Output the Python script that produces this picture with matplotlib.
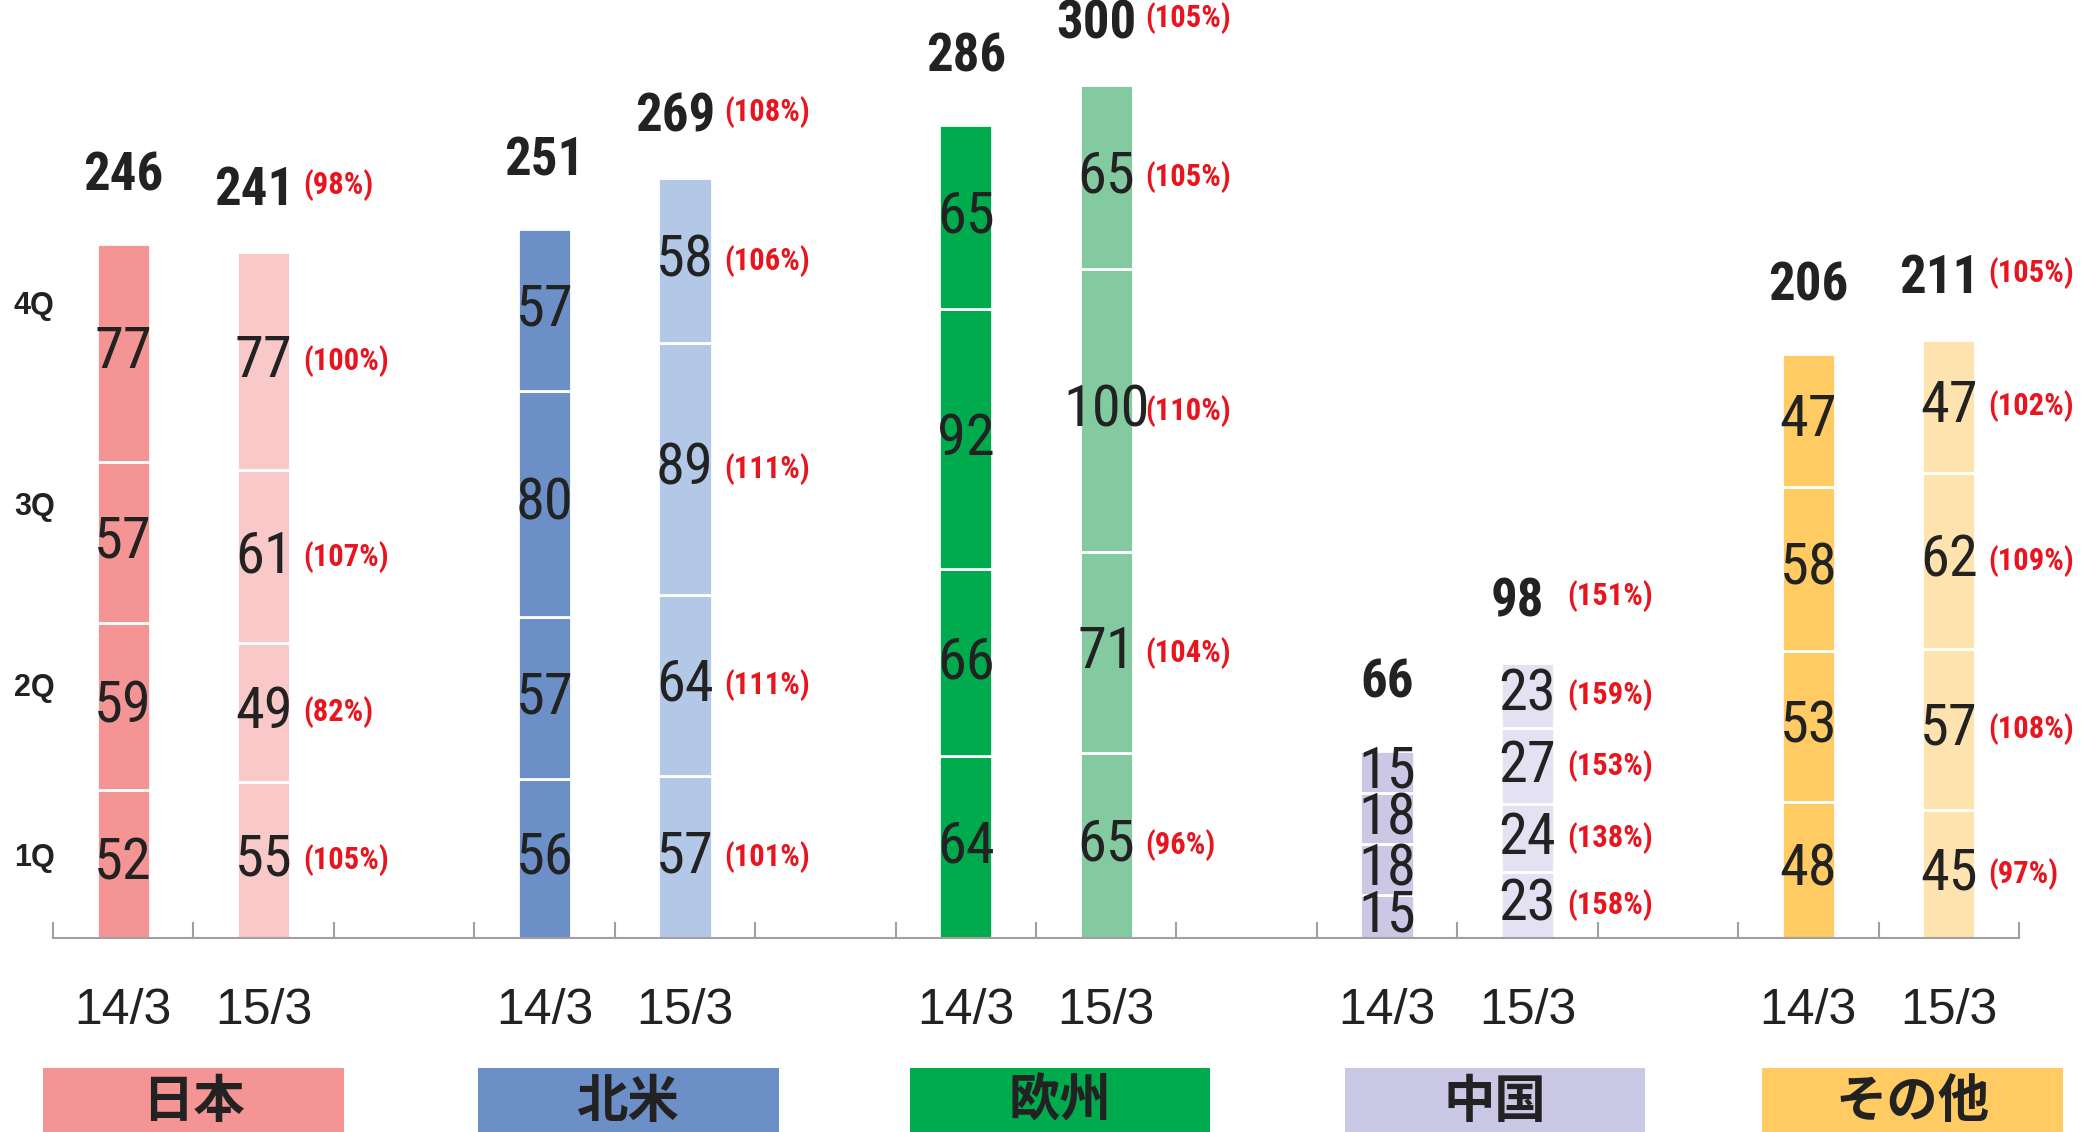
import matplotlib
matplotlib.use('Agg')
import matplotlib.pyplot as plt
from matplotlib.patches import Rectangle
from matplotlib.transforms import blended_transform_factory
from matplotlib import font_manager

installed = {f.name for f in font_manager.fontManager.ttflist}


def pick(*names):
    for n in names:
        if n in installed:
            return n
    return 'Liberation Sans'


NUM = pick('Liberation Sans Narrow', 'Arial Narrow', 'Roboto Condensed', 'IBM Plex Sans Condensed',
           'PT Sans Narrow', 'Archivo Narrow')
NUM_B = pick('Liberation Sans Narrow', 'Arial Narrow', 'Roboto Condensed', 'IBM Plex Sans Condensed',
             'PT Sans Narrow', 'Barlow Condensed')
JP = 'Noto Sans CJK JP'
plt.rcParams['font.family'] = [NUM, JP, 'DejaVu Sans']

# data
regions = ['日本', '北米', '欧州', '中国', 'その他']
periods = ['14/3', '15/3']
quarters = ['1Q', '2Q', '3Q', '4Q']
quarter_ticks = [28, 88, 152, 223]

prev_q = [[52, 59, 57, 77], [56, 57, 80, 57], [64, 66, 92, 65], [15, 18, 18, 15], [48, 53, 58, 47]]
cur_q = [[55, 49, 61, 77], [57, 64, 89, 58], [65, 71, 100, 65], [23, 24, 27, 23], [45, 57, 62, 47]]
prev_total = [246, 251, 286, 66, 206]
cur_total = [241, 269, 300, 98, 211]
cur_pct_q = [[105, 82, 107, 100], [101, 111, 111, 106], [96, 104, 110, 105],
             [158, 138, 153, 159], [97, 108, 109, 102]]
cur_pct_total = [98, 108, 105, 151, 105]

dark = ['#F59494', '#6C8FC8', '#00AB4E', '#CBC8E5', '#FFCB62']
light = ['#F9C8C8', '#B3C8E7', '#84CAA0', '#E4E2F2', '#FFE3AE']
box_shift = [0.0, 0.1, 0.17, 0.27, 0.24]   # region boxes drift right in the original slide
RED = '#E8141E'
INK = '#222222'
GREY = '#A0A0A0'
W = 0.38

fig = plt.figure(figsize=(20.94, 11.32), dpi=100)
ax = fig.add_axes([53 / 2094, 0.1718, 1966 / 2094, 0.8282])
ax.set_xlim(-0.5, 13.5)
ax.set_ylim(0, 331)

xfig = blended_transform_factory(ax.transData, fig.transFigure)
figy = blended_transform_factory(fig.transFigure, ax.transData)

for i, reg in enumerate(regions):
    for j, (vals, col) in enumerate([(prev_q[i], dark[i]), (cur_q[i], light[i])]):
        x = 3 * i + j
        bottom = 0
        for k, v in enumerate(vals):
            ax.bar(x, v, bottom=bottom, width=W, color=col, edgecolor='white', linewidth=2, zorder=2)
            ax.text(x, bottom + v / 2, str(v), ha='center', va='center',
                    fontsize=42, color=INK, zorder=3)
            if j == 1:
                ax.text(x + W / 2 + 0.09, bottom + v / 2, f'({cur_pct_q[i][k]}%)',
                        ha='left', va='center', fontsize=22, fontweight='bold',
                        family=NUM_B, color=RED)
            bottom += v
        total = prev_total[i] if j == 0 else cur_total[i]
        ax.annotate(str(total), (x, bottom), xytext=(0, 49) if j == 0 else (-7, 44),
                    textcoords='offset points', ha='center', va='center',
                    fontsize=38, fontweight='bold', family=NUM_B, color=INK)
        if j == 1:
            ax.annotate(f'({cur_pct_total[i]}%)', (x + W / 2 + 0.09, bottom), xytext=(0, 48),
                        textcoords='offset points', ha='left', va='center',
                        fontsize=22, fontweight='bold', family=NUM_B, color=RED)
        ax.text(x, 0.107, periods[j], transform=xfig, ha='center', va='center',
                fontsize=36, family='Liberation Sans', color=INK)

    # region box below
    cx = 3 * i + 0.5 + box_shift[i]
    ax.add_patch(Rectangle((cx - 1.07, -0.02), 2.14, 0.0765, transform=xfig,
                           facecolor=dark[i], edgecolor='none', clip_on=False))
    ax.text(cx, 0.027, reg, transform=xfig, ha='center', va='center', fontsize=37,
            fontweight='bold', family=[JP, 'DejaVu Sans'], color=INK)

for q, yq in zip(quarters, quarter_ticks):
    ax.text(14 / 2094, yq, q, transform=figy, ha='left', va='center',
            fontsize=22, fontweight='bold', family='Liberation Sans', color=INK)

for s in ['top', 'right', 'left']:
    ax.spines[s].set_visible(False)
ax.spines['bottom'].set_color(GREY)
ax.spines['bottom'].set_linewidth(1.5)
ax.set_yticks([])
ax.set_xticks([])
ax.set_xticks([b - 0.5 for b in range(15)], minor=True)
ax.tick_params(axis='x', which='minor', direction='in', length=11.5, width=1.5, color=GREY)

fig.savefig('out.png', dpi=100)
